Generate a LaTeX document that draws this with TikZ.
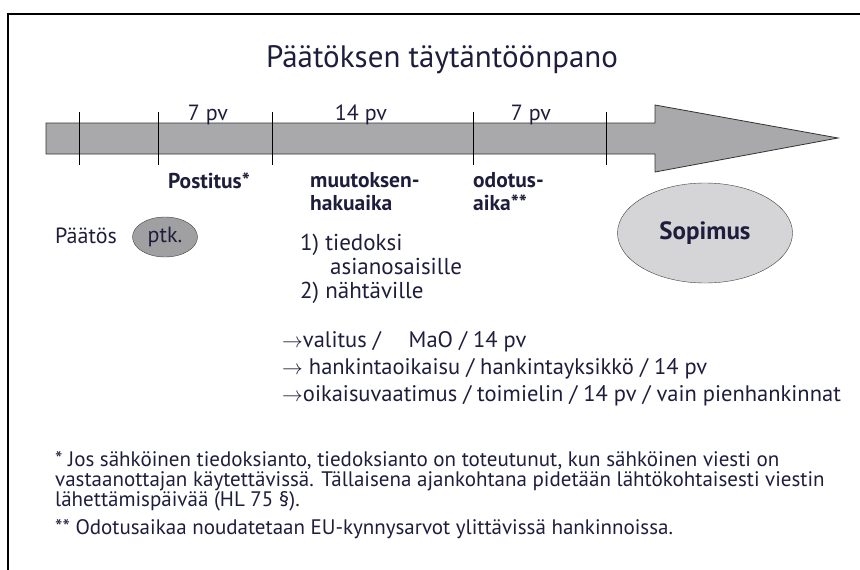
\documentclass[tikz,border=0pt]{standalone}
\usepackage{fontspec}
\setmainfont{PT Sans}
\usetikzlibrary{shapes.geometric}
\definecolor{ink}{RGB}{30,30,60}
\definecolor{bargray}{RGB}{169,169,171}
\definecolor{ptkgray}{RGB}{160,160,162}
\definecolor{sopgray}{RGB}{213,213,215}
\begin{document}
\begin{tikzpicture}[x=1pt,y=-1pt,
    txt/.style={inner sep=0pt,text=ink,anchor=base west},
    daylbl/.style={inner sep=0pt,text=ink,anchor=base,font=\fontsize{22}{24}\selectfont},
    phase/.style={txt,font=\bfseries\fontsize{21.5}{23}\selectfont,align=left},
    item/.style={txt,font=\fontsize{23}{24}\selectfont},
    appeal/.style={txt,font=\fontsize{22.5}{24}\selectfont},
    note/.style={txt,font=\fontsize{21}{20}\selectfont}]
  \useasboundingbox (0,0) rectangle (860,570);
  % frame
  \draw[line width=2.2pt] (8,570) -- (8,14) -- (860,14);
  % time line arrow
  \draw[fill=bargray,line width=0.8pt,draw=black!80]
    (46,123) -- (655,123) -- (655,105) -- (838,138) -- (655,172) -- (655,154) -- (46,154) -- cycle;
  \foreach \t in {79,158,272,473,606}
    \draw[line width=1pt] (\t,112) -- (\t,165);
  \node[txt,anchor=base,font=\fontsize{31}{34}\selectfont] (title) at (442,67) {Päätöksen täytäntöönpano};
  % periods
  \node[daylbl] (pvA) at (208,120) {7 pv};
  \node[daylbl] (pvB) at (361,120) {14 pv};
  \node[daylbl] (pvC) at (531,120) {7 pv};
  \node[phase] (postitus) at (168,188) {Postitus*};
  \node[phase] (haku) at (310,210) {muutoksen-\\hakuaika};
  \node[phase] (odotus) at (473,210) {odotus-\\aika**};
  % decision and contract
  \node[txt,font=\fontsize{22}{24}\selectfont] (paatos) at (55,243) {Päätös};
  \node[ellipse,draw=black!75,fill=ptkgray,minimum width=65pt,minimum height=40pt,inner sep=0pt,
    text=ink,font=\fontsize{22}{24}\selectfont] (ptk) at (165,237) {ptk.};
  \node[ellipse,draw=black!75,fill=sopgray,minimum width=175pt,minimum height=100pt,inner sep=0pt,
    text=ink,font=\bfseries\fontsize{25}{28}\selectfont] (sopimus) at (705,233) {Sopimus};
  % notification
  \node[item] (tied) at (300,250) {1) tiedoksi};
  \node[item] (asian) at (330,274) {asianosaisille};
  \node[item] (naht) at (300,298) {2) nähtäville};
  % appeals
  \node[appeal] (valitus) at (282,347) {$\rightarrow$valitus /\hspace{28pt}MaO / 14 pv};
  \node[appeal] (oikaisu) at (282,374) {$\rightarrow$ hankintaoikaisu / hankintayksikkö / 14 pv};
  \node[appeal] (vaatimus) at (282,401) {$\rightarrow$oikaisuvaatimus / toimielin / 14 pv / vain pienhankinnat};
  % footnotes
  \node[note] (fnA) at (55,466) {* Jos sähköinen tiedoksianto, tiedoksianto on toteutunut, kun sähköinen viesti on};
  \node[note] (fnB) at (55,486) {vastaanottajan käytettävissä. Tällaisena ajankohtana pidetään lähtökohtaisesti viestin};
  \node[note] (fnC) at (55,506) {lähettämispäivää (HL 75 §).};
  \node[note] (fnD) at (55,534) {** Odotusaikaa noudatetaan EU-kynnysarvot ylittävissä hankinnoissa.};
\end{tikzpicture}
\end{document}
